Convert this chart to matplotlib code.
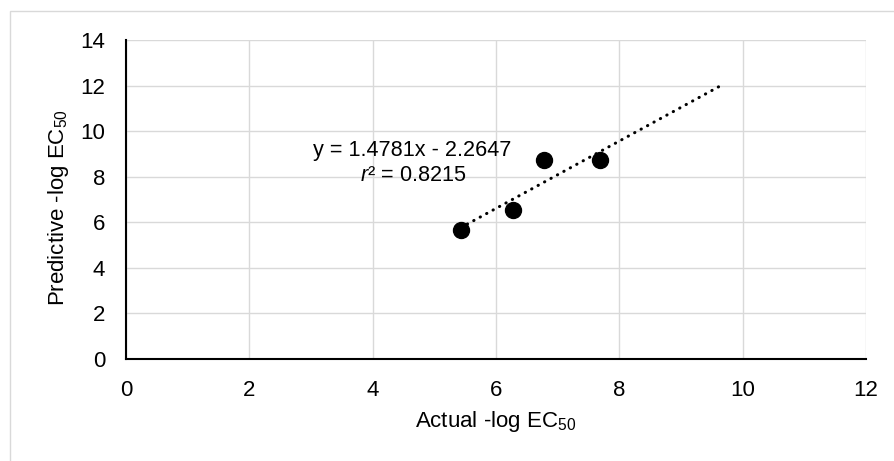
import numpy as np
import matplotlib
matplotlib.use("Agg")
import matplotlib.pyplot as plt
from matplotlib.patches import Rectangle

plt.rcParams['font.family'] = ['Liberation Sans', 'DejaVu Sans']
plt.rcParams['mathtext.fontset'] = 'custom'
plt.rcParams['mathtext.rm'] = 'Liberation Sans'
plt.rcParams['mathtext.it'] = 'Liberation Sans:italic'

# Data
actual = [5.43, 6.27, 6.78, 7.69]
predicted = [5.68, 6.55, 8.72, 8.72]
x_ticks = [0, 2, 4, 6, 8, 10, 12]
y_ticks = [0, 2, 4, 6, 8, 10, 12, 14]
equation_text = "y = 1.4781x - 2.2647"
r2_text = r"$\mathit{r}$² = 0.8215"
trend_forward = 1.93

W, H = 895, 461
fig = plt.figure(figsize=(W / 100, H / 100), dpi=100)
ax_l, ax_r, ax_t, ax_b = 126, 866, 40.3, 359
ax = fig.add_axes([ax_l / W, 1 - ax_b / H, (ax_r - ax_l) / W, (ax_b - ax_t) / H])

grid_c = '#d9d9d9'
ax.set_xlim(0, 12)
ax.set_ylim(0, 14)
ax.set_xticks(x_ticks)
ax.set_yticks(y_ticks)
ax.grid(True, color=grid_c, lw=1.0, zorder=0)
ax.set_axisbelow(True)
for s in ['top', 'right']:
    ax.spines[s].set_visible(False)
for s in ['left', 'bottom']:
    ax.spines[s].set_linewidth(1.5)
    ax.spines[s].set_color('black')
    ax.spines[s].set_zorder(3)
ax.tick_params(axis='both', length=0, labelsize=16, colors='#000000')
ax.tick_params(axis='y', pad=15)
ax.tick_params(axis='x', pad=15)

# Scatter points
ax.scatter(actual, predicted, s=132, color='black', zorder=4, clip_on=False)

# Linear trendline
slope, intercept = np.polyfit(actual, predicted, 1)
xt = np.array([min(actual), max(actual) + trend_forward])
ax.plot(xt, slope * xt + intercept, color='black', lw=2.2,
        linestyle=(0, (0.1, 2.3)), dash_capstyle='round', zorder=5)

# Equation text
ax.text(4.645, 9.15, equation_text, fontsize=15.6, ha='center', va='center')
ax.text(4.66, 8.08, r2_text, fontsize=15.6, ha='center', va='center')

ax.set_xlabel(r"Actual -log EC$_{50}$", fontsize=16)
ax.set_ylabel(r"Predictive -log EC$_{50}$", fontsize=16)
ax.xaxis.set_label_coords(0.5, -(409 - ax_b) / (ax_b - ax_t))
ax.yaxis.set_label_coords(-(ax_l - 71) / (ax_r - ax_l), (ax_b - 208) / (ax_b - ax_t))

# Chart area border
fig.patches.append(Rectangle((10 / W, -0.05), 1.2, 1 - 11.5 / H + 0.05,
                             transform=fig.transFigure, fill=False,
                             edgecolor=grid_c, lw=1.0))

fig.savefig('out.png', dpi=100)
